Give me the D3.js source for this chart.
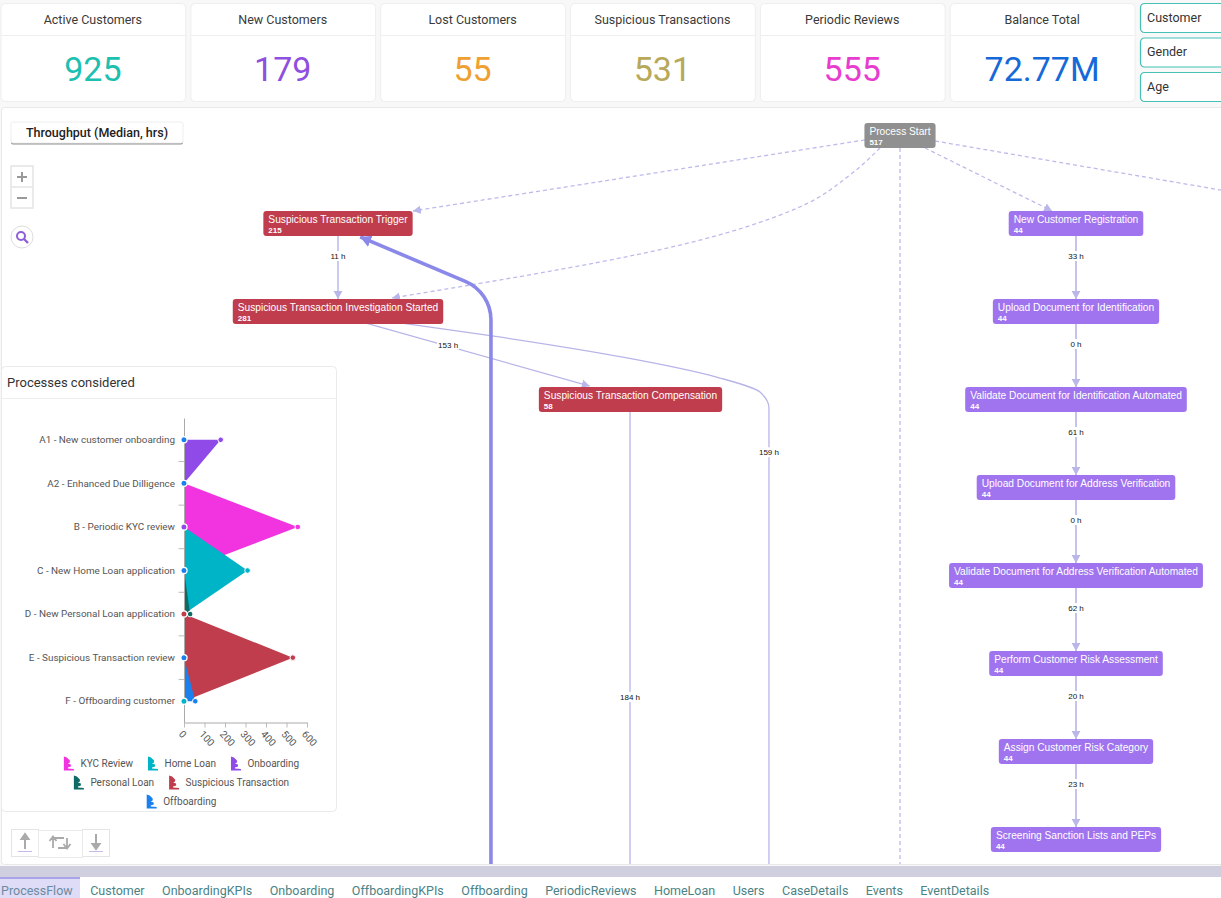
<!DOCTYPE html>
<html>
<head>
<meta charset="utf-8">
<script src="https://cdn.jsdelivr.net/npm/d3@7"></script>
<style>
body { margin: 0; background: #f8f8f8; overflow: hidden; }
svg { display: block; }
text { font-family: Roboto, sans-serif; }
.flow text { font-family: "Liberation Sans", Arial, sans-serif; }
</style>
</head>
<body>
<svg id="page" width="1221" height="898"></svg>
<script>
/* kpi row */
const kpiLabels = ["Active Customers", "New Customers", "Lost Customers", "Suspicious Transactions", "Periodic Reviews", "Balance Total"];
const kpiValues = ["925", "179", "55", "531", "555", "72.77M"];
const kpiColors = ["#1cc0b0", "#8f50e0", "#f0a030", "#b8a85a", "#e83ccf", "#1569d8"];
const filterLabels = ["Customer", "Gender", "Age"];
const tabLabels = ["ProcessFlow", "Customer", "OnboardingKPIs", "Onboarding", "OffboardingKPIs", "Offboarding", "PeriodicReviews", "HomeLoan", "Users", "CaseDetails", "Events", "EventDetails"];

/* process flow nodes */
const nodeNames = ["Process Start", "Suspicious Transaction Trigger", "Suspicious Transaction Investigation Started", "Suspicious Transaction Compensation",
  "New Customer Registration", "Upload Document for Identification", "Validate Document for Identification Automated", "Upload Document for Address Verification",
  "Validate Document for Address Verification Automated", "Perform Customer Risk Assessment", "Assign Customer Risk Category", "Screening Sanction Lists and PEPs"];
const nodeCounts = [517, 215, 281, 58, 44, 44, 44, 44, 44, 44, 44, 44];
const nodeRanks = [0, 1, 2, 3, 1, 2, 3, 4, 5, 6, 7, 8];
const nodeLanes = ["start", "review", "review", "comp", "cust", "cust", "cust", "cust", "cust", "cust", "cust", "cust"];
const nodeKinds = ["start", "sus", "sus", "sus", "onb", "onb", "onb", "onb", "onb", "onb", "onb", "onb"];

/* straight edges between neighbouring nodes */
const stepFrom = [1, 4, 5, 6, 7, 8, 9, 10];
const stepTo = [2, 5, 6, 7, 8, 9, 10, 11];
const stepHours = [11, 33, 0, 61, 0, 62, 20, 23];

/* routed edges, points are [percent of width, rank] */
const dashedRoutes = [
  [[70.84, 0.05], [33.82, 0.858]],
  [[72.07, 0.142], [69.6, 0.449], [65.5, 0.8125], [57.3, 1.19], [32.1, 1.847]],
  [[73.71, 0.142], [73.71, 8.3]],
  [[75.76, 0.142], [86.16, 0.858]],
  [[76.58, 0.0625], [100, 0.62]]
];
const thinRoutes = [
  [[29.9, 2.13], [48.3, 2.847]],
  [[32.76, 2.13], [40.3, 2.278], [51.35, 2.528], [58.97, 2.756], [62.24, 2.915], [62.98, 3.097], [62.98, 8.3]],
  [[51.6, 3.142], [51.6, 8.3]]
];
const thinHours = [153, 159, 184];
const thinLabelSpots = [[36.7, 2.375], [62.98, 3.6], [51.6, 6.38]];
const heavyRoute = [[40.21, 8.3], [40.21, 1.78], [29.5, 1.153]];

/* processes considered */
const processNames = ["A1 - New customer onboarding", "A2 - Enhanced Due Dilligence", "B - Periodic KYC review", "C - New Home Loan application", "D - New Personal Loan application", "E - Suspicious Transaction review", "F - Offboarding customer"];
const seriesNames = ["KYC Review", "Home Loan", "Onboarding", "Personal Loan", "Suspicious Transaction", "Offboarding"];
const seriesColors = ["#f233e0", "#00b4c8", "#8f4ae8", "#0d6b63", "#bf3d4d", "#1a80ee"];
const kycValues = [0, 0, 555, 0, 0, 0, 0];
const homeValues = [0, 0, 0, 310, 0, 0, 0];
const onboardingValues = [179, 0, 0, 0, 0, 0, 0];
const personalValues = [0, 0, 0, 0, 30, 0, 0];
const suspiciousValues = [0, 0, 0, 0, 0, 531, 0];
const offboardingValues = [0, 0, 0, 0, 0, 0, 55];
const seriesValues = [kycValues, homeValues, onboardingValues, personalValues, suspiciousValues, offboardingValues];
const zeroDotSeries = [5, 5, 2, 5, 4, 5, 1];
const xTicks = [0, 100, 200, 300, 400, 500, 600];

const svg = d3.select("#page");

/* kpi cards */
const kpiX = d3.scaleBand().domain(kpiLabels).range([0.5, 1134.5]).paddingInner(0.027);
const kpi = svg.selectAll(".kpi").data(kpiLabels).enter().append("g")
  .attr("class", "kpi")
  .attr("transform", d => "translate(" + kpiX(d) + ",3)");
kpi.append("rect").attr("x", 0.5).attr("y", 0.5).attr("width", kpiX.bandwidth()).attr("height", 98).attr("rx", 4)
  .attr("fill", "#fff").attr("stroke", "#eee");
kpi.append("line").attr("x1", 1).attr("x2", kpiX.bandwidth()).attr("y1", 32.5).attr("y2", 32.5).attr("stroke", "#eee");
kpi.append("text").attr("x", kpiX.bandwidth() / 2).attr("y", 21).attr("text-anchor", "middle")
  .attr("font-size", 12.5).attr("fill", "#3a3a3a").text(d => d);
kpi.append("text").attr("x", kpiX.bandwidth() / 2).attr("y", 77.5).attr("text-anchor", "middle")
  .attr("font-size", 34).attr("fill", (d, i) => kpiColors[i]).text((d, i) => kpiValues[i]);

/* filters on the right */
const filterY = d3.scalePoint().domain(filterLabels).range([3.5, 72.5]);
const filter = svg.selectAll(".filter").data(filterLabels).enter().append("g")
  .attr("transform", d => "translate(1140.5," + filterY(d) + ")");
filter.append("rect").attr("width", 100).attr("height", 29).attr("rx", 4).attr("fill", "#fff").attr("stroke", "#45c2b5").attr("stroke-width", 1.2);
filter.append("text").attr("x", 6.5).attr("y", 18).attr("font-size", 12.5).attr("fill", "#333").text(d => d);

/* flow panel */
svg.append("rect").attr("x", 1.5).attr("y", 107.5).attr("width", 1230).attr("height", 757).attr("rx", 3)
  .attr("fill", "#fff").attr("stroke", "#e8e8e8");
svg.append("clipPath").attr("id", "flowClip").append("rect").attr("x", 2).attr("y", 108).attr("width", 1219).attr("height", 756);

const flowX = d3.scaleLinear().domain([0, 100]).range([0, 1221]);
const rankY = d3.scaleLinear().domain([0, 8]).range([135.5, 839.5]);
const laneX = d3.scaleOrdinal().domain(["review", "comp", "start", "cust"]).range([338, 630.5, 900, 1076]);
const nodeHeight = 25;

const defs = svg.append("defs");
function addArrow(id, color, size) {
  defs.append("marker").attr("id", id).attr("markerUnits", "userSpaceOnUse")
    .attr("viewBox", (-size) + " " + (-size) + " " + (size * 2) + " " + (size * 2))
    .attr("markerWidth", size * 2).attr("markerHeight", size * 2)
    .attr("refX", 0).attr("refY", 0).attr("orient", "auto")
    .append("path").attr("d", "M0,0L" + (-size) + "," + (-size * 0.55) + "L" + (-size) + "," + (size * 0.55) + "Z").attr("fill", color);
}
addArrow("arrowLight", "#b9b7ea", 8);
addArrow("arrowHeavy", "#8a88e8", 11);

const flow = svg.append("g").attr("class", "flow").attr("clip-path", "url(#flowClip)");
const routeLine = d3.line().x(d => flowX(d[0])).y(d => rankY(d[1])).curve(d3.curveMonotoneY);

function heavyPath(points) {
  const p = d3.path();
  const pts = points.map(d => [flowX(d[0]), rankY(d[1])]);
  p.moveTo(pts[0][0], pts[0][1]);
  p.arcTo(pts[1][0], pts[1][1], pts[2][0], pts[2][1], 42);
  p.lineTo(pts[2][0], pts[2][1]);
  return p.toString();
}

flow.selectAll(".dashed").data(dashedRoutes).enter().append("path")
  .attr("d", routeLine).attr("fill", "none").attr("stroke", "#bdbbec").attr("stroke-width", 1.3)
  .attr("stroke-dasharray", "4,3")
  .attr("marker-end", (d, i) => (i == 0 || i == 1 || i == 3) ? "url(#arrowLight)" : null);

flow.selectAll(".thin").data(thinRoutes).enter().append("path")
  .attr("d", routeLine).attr("fill", "none").attr("stroke", "#b7b5e8").attr("stroke-width", 1.3)
  .attr("marker-end", (d, i) => i == 0 ? "url(#arrowLight)" : null);

flow.append("path").attr("d", heavyPath(heavyRoute)).attr("fill", "none")
  .attr("stroke", "#8a88e8").attr("stroke-width", 3.6).attr("marker-end", "url(#arrowHeavy)");

stepFrom.forEach(function (from, i) {
  const to = stepTo[i];
  const x = laneX(nodeLanes[from]);
  const y1 = rankY(nodeRanks[from]) + nodeHeight / 2;
  const y2 = rankY(nodeRanks[to]) - nodeHeight / 2;
  flow.append("line").attr("x1", x).attr("x2", x).attr("y1", y1).attr("y2", y2)
    .attr("stroke", i == 0 ? "#b9b7ea" : "#c4c3ec").attr("stroke-width", i == 0 ? 1.5 : 2)
    .attr("marker-end", "url(#arrowLight)");
  hourLabel(x, y1 + 20, stepHours[i] + " h");
});

thinHours.forEach(function (h, i) {
  hourLabel(flowX(thinLabelSpots[i][0]), rankY(thinLabelSpots[i][1]), h + " h");
});

function hourLabel(x, y, label) {
  const g = flow.append("g").attr("transform", "translate(" + x + "," + y + ")");
  const t = g.append("text").attr("text-anchor", "middle").attr("y", 3).attr("font-size", 8).attr("fill", "#111").text(label);
  const w = t.node().getComputedTextLength() + 2;
  g.insert("rect", "text").attr("x", -w / 2).attr("y", -5).attr("width", w).attr("height", 10).attr("fill", "#fff");
}

const kindColor = d3.scaleOrdinal().domain(["start", "sus", "onb"]).range(["#909090", "#bf3d4d", "#9f74ee"]);
const node = flow.selectAll(".node").data(nodeNames).enter().append("g")
  .attr("class", "node")
  .attr("transform", (d, i) => "translate(" + laneX(nodeLanes[i]) + "," + rankY(nodeRanks[i]) + ")");
node.append("text").attr("class", "name").attr("y", -1).attr("font-size", 10.2).attr("fill", "#fff").text(d => d);
node.append("text").attr("class", "count").attr("y", 9).attr("font-size", 8).attr("font-weight", "bold").attr("fill", "#fff").text((d, i) => nodeCounts[i]);
node.each(function (d, i) {
  const g = d3.select(this);
  const w = g.select(".name").node().getComputedTextLength() + 10;
  g.insert("rect", "text").attr("x", -w / 2).attr("y", -nodeHeight / 2).attr("width", w).attr("height", nodeHeight).attr("rx", 3)
    .attr("fill", kindColor(nodeKinds[i]));
  g.selectAll("text").attr("x", -w / 2 + 5);
});

/* map controls */
const throughput = svg.append("g").attr("transform", "translate(11,122)");
throughput.append("rect").attr("y", 1.5).attr("width", 172).attr("height", 21).attr("rx", 2).attr("fill", "#8e8e8e");
throughput.append("rect").attr("width", 172).attr("height", 21).attr("rx", 2).attr("fill", "#fff").attr("stroke", "#eee");
throughput.append("text").attr("x", 86).attr("y", 15).attr("text-anchor", "middle").attr("font-size", 12.5).attr("font-weight", 500).attr("fill", "#222").text("Throughput (Median, hrs)");

const zoomButtons = svg.append("g").attr("transform", "translate(11,166)");
zoomButtons.append("rect").attr("width", 22).attr("height", 42).attr("fill", "#fff").attr("stroke", "#e4e4e4").attr("stroke-width", 1.5);
zoomButtons.append("line").attr("x1", 0).attr("x2", 22).attr("y1", 21).attr("y2", 21).attr("stroke", "#e4e4e4").attr("stroke-width", 1.5);
zoomButtons.append("path").attr("d", "M6,11H16M11,6V16M6,32H16").attr("stroke", "#999").attr("stroke-width", 2);

const searchButton = svg.append("g").attr("transform", "translate(22,237)");
searchButton.append("circle").attr("r", 11).attr("fill", "#fff").attr("stroke", "#ddd");
searchButton.append("circle").attr("cx", -1).attr("cy", -1).attr("r", 4).attr("fill", "none").attr("stroke", "#8f5fd8").attr("stroke-width", 2);
searchButton.append("line").attr("x1", 2).attr("y1", 2).attr("x2", 6).attr("y2", 6).attr("stroke", "#8f5fd8").attr("stroke-width", 2.4);

/* processes considered card */
const card = svg.append("g").attr("transform", "translate(1,366)");
card.append("rect").attr("x", 0.5).attr("y", 0.5).attr("width", 335).attr("height", 445).attr("rx", 4).attr("fill", "#fff").attr("stroke", "#eaeaea");
card.append("line").attr("x1", 1).attr("x2", 335).attr("y1", 32.5).attr("y2", 32.5).attr("stroke", "#eee");
card.append("text").attr("x", 6).attr("y", 21).attr("font-size", 13).attr("fill", "#333").text("Processes considered");

const chartX = d3.scaleLinear().domain([0, 600]).range([184, 307]);
const chartY = d3.scaleBand().domain(processNames).range([418, 723]);
const centerY = d => chartY(d) + chartY.bandwidth() / 2;

const chart = svg.append("g");
const area = d3.area()
  .x0(chartX(0))
  .x1(d => chartX(d))
  .y((d, i) => centerY(processNames[i]));

chart.selectAll(".area").data(seriesValues).enter().append("path")
  .attr("d", area).attr("fill", (d, i) => seriesColors[i]);

/* value dots, then the dot left on top at zero for each row */
seriesValues.forEach(function (values, s) {
  values.forEach(function (v, i) {
    if (v > 0) {
      chart.append("circle").attr("cx", chartX(v)).attr("cy", centerY(processNames[i])).attr("r", 2.8)
        .attr("fill", seriesColors[s]).attr("stroke", "#fff").attr("stroke-width", 1);
    }
  });
});

const yAxis = chart.append("g").attr("transform", "translate(184,0)")
  .call(d3.axisLeft(chartY).tickSize(0).tickPadding(9));
yAxis.selectAll("text").attr("font-family", "Roboto").attr("font-size", 9.9).attr("fill", "#555");
yAxis.select(".domain").attr("stroke", "#aaa");
processNames.slice(1).forEach(function (d) {
  chart.append("line").attr("x1", 178.5).attr("x2", 184).attr("y1", chartY(d)).attr("y2", chartY(d)).attr("stroke", "#bbb");
});

zeroDotSeries.forEach(function (s, i) {
  chart.append("circle").attr("cx", chartX(0)).attr("cy", centerY(processNames[i])).attr("r", 3.1)
    .attr("fill", seriesColors[s]).attr("stroke", "#fff").attr("stroke-width", 1.2);
});

const xAxis = chart.append("g").attr("transform", "translate(0,722.5)")
  .call(d3.axisBottom(chartX).tickValues(xTicks).tickSize(5).tickSizeOuter(0).tickFormat(d => d));
xAxis.select(".domain").attr("stroke", "#aaa");
xAxis.selectAll("line").attr("stroke", "#bbb");
xAxis.selectAll("text").attr("font-family", "Roboto").attr("font-size", 10).attr("fill", "#555")
  .attr("text-anchor", "start").attr("y", 0).attr("dy", "0.3em").attr("transform", "translate(-4,10) rotate(48)");

/* legend, rows are centred like the original */
const legendRows = [[0, 1, 2], [3, 4], [5]];
const legendRowY = d3.scalePoint().domain([0, 1, 2]).range([763.5, 801.5]);
legendRows.forEach(function (row, r) {
  const g = svg.append("g");
  let x = 0;
  row.forEach(function (s) {
    const item = g.append("g").attr("transform", "translate(" + x + ",0)");
    item.append("path").attr("d", "M0,-7L3,-6L6,-3L6,-1L4,0L7,1L7,3L4,4L4,5L10,5.5L10,7L0,7Z").attr("fill", seriesColors[s]);
    const t = item.append("text").attr("x", 16.5).attr("y", 3.5).attr("font-size", 10).attr("fill", "#555").text(seriesNames[s]);
    x += 16.5 + t.node().getComputedTextLength() + 15;
  });
  const rowWidth = x - 15;
  g.attr("transform", "translate(" + (181.5 - rowWidth / 2) + "," + legendRowY(r) + ")");
});

/* direction buttons */
const dirButtons = svg.append("g").attr("transform", "translate(11,829)");
dirButtons.append("rect").attr("x", 0.5).attr("y", 0.5).attr("width", 27).attr("height", 27).attr("fill", "#fff").attr("stroke", "#e4e4e4");
dirButtons.append("rect").attr("x", 71.5).attr("y", 0.5).attr("width", 27).attr("height", 27).attr("fill", "#fff").attr("stroke", "#e4e4e4");
dirButtons.append("rect").attr("x", 27.5).attr("y", 1.5).attr("width", 44).attr("height", 27).attr("fill", "#fff").attr("stroke", "#eaeaea");
dirButtons.append("path").attr("d", "M14,20V6M10.5,10L14,5L17.5,10Z").attr("stroke", "#aaa").attr("stroke-width", 2).attr("fill", "#aaa");
dirButtons.append("path").attr("d", "M85,5V19M81.5,15L85,20L88.5,15Z").attr("stroke", "#aaa").attr("stroke-width", 2).attr("fill", "#aaa");
dirButtons.append("path").attr("d", "M7,22.5H21M78,22.5H92").attr("stroke", "#c9b8e8").attr("stroke-width", 1.2);
dirButtons.append("path").attr("d", "M42,19V9H53M47,19H56V9M38.5,12L42,7.5L45.5,12M52.5,15L56,19.5L59.5,15").attr("stroke", "#aaa").attr("stroke-width", 1.8).attr("fill", "none");

/* tabs at the bottom */
svg.append("rect").attr("x", 0).attr("y", 866).attr("width", 1221).attr("height", 11).attr("fill", "#cfcfe0");
svg.append("rect").attr("x", 0).attr("y", 877).attr("width", 1221).attr("height", 21).attr("fill", "#fff");
svg.append("rect").attr("x", 0).attr("y", 877).attr("width", 80).attr("height", 21).attr("fill", "#dedcf6");
svg.append("rect").attr("x", 0).attr("y", 877).attr("width", 80).attr("height", 2).attr("fill", "#a9a5e8");
let tabX = 1;
tabLabels.forEach(function (label, i) {
  const t = svg.append("text").attr("x", tabX).attr("y", 895).attr("font-size", 12.5)
    .attr("fill", i == 0 ? "#6c8aa0" : "#4a8286").text(label);
  tabX += t.node().getComputedTextLength() + 17.5;
});
</script>
</body>
</html>
